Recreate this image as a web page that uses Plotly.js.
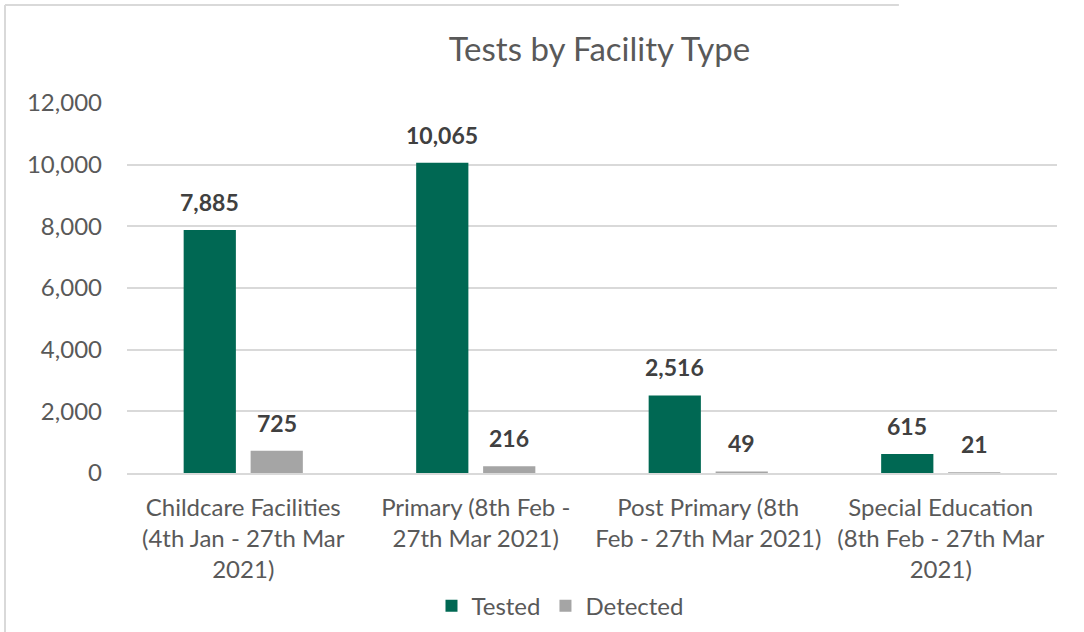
<!DOCTYPE html>
<html>
<head>
<meta charset="utf-8">
<script src="https://cdn.plot.ly/plotly-3.0.1.min.js"></script>
<style>html,body{margin:0;padding:0;background:#fff;}#chart{width:1084px;height:632px;}</style>
</head>
<body>
<div id="chart"></div>
<script>
const categories = [
  "Childcare Facilities<br>(4th Jan - 27th Mar<br>2021)",
  "Primary (8th Feb -<br>27th Mar 2021)",
  "Post Primary (8th<br>Feb - 27th Mar 2021)",
  "Special Education<br>(8th Feb - 27th Mar<br>2021)"
];
const tested = [7885, 10065, 2516, 615];
const detected = [725, 216, 49, 21];
const yTicks = [0, 2000, 4000, 6000, 8000, 10000, 12000];
const yTickLabels = ["0", "2,000", "4,000", "6,000", "8,000", "10,000", "12,000"];

const fmt = v => v.toLocaleString("en-US");
const FONT = "Lato, 'Open Sans', sans-serif";

const traces = [
  {type: "bar", name: "Tested", x: categories, y: tested,
   marker: {color: "#006853"}, hoverinfo: "none"},
  {type: "bar", name: "Detected", x: categories, y: detected,
   marker: {color: "#A5A5A5"}, hoverinfo: "none"}
];

const labelFont = {family: FONT, size: 23, color: "#404040", weight: 700};
const annotations = [];
[[tested, -33.5], [detected, 33.5]].forEach(([vals, dx]) => {
  vals.forEach((v, i) => {
    annotations.push({x: categories[i], y: v, xref: "x", yref: "y", text: "<b>" + fmt(v) + "</b>",
      showarrow: false, xanchor: "center", yanchor: "bottom", xshift: dx, yshift: 12, font: labelFont});
  });
});

const layout = {
  width: 1084, height: 632,
  margin: {l: 127, r: 27, t: 103, b: 159},
  paper_bgcolor: "#fff", plot_bgcolor: "#fff",
  font: {family: FONT, color: "#595959", size: 23},
  title: {text: "Tests by Facility Type", x: 0.553, xanchor: "center", y: 0.922, yanchor: "middle",
          font: {family: FONT, size: 33, color: "#595959"}},
  barmode: "group", bargap: 0.424, bargroupgap: 0.22,
  xaxis: {tickfont: {family: FONT, size: 24, color: "#595959"}, showline: true, linecolor: "#D9D9D9", linewidth: 2,
          ticks: "", showgrid: false, automargin: false, ticklabelstandoff: 12},
  yaxis: {range: [0, 12000], tickvals: yTicks, ticktext: yTickLabels,
          tickfont: {family: FONT, size: 24, color: "#595959"},
          showgrid: true, gridcolor: "#D9D9D9", gridwidth: 2, zeroline: false, showline: false,
          ticks: "", automargin: false, ticklabelstandoff: 24},
  showlegend: true,
  legend: {orientation: "h", xref: "container", yref: "container", x: 0.5166, xanchor: "center",
           y: 0.041, yanchor: "middle",
           font: {family: FONT, size: 24, color: "#595959"}, itemwidth: 30, tracegroupgap: 0},
  annotations: annotations,
  shapes: [
    {type: "line", xref: "paper", yref: "paper", x0: -0.1312, x1: -0.1312, y0: 1.265, y1: -0.45,
     line: {color: "#D9D9D9", width: 2}},
    {type: "line", xref: "paper", yref: "paper", x0: -0.1312, x1: 0.83, y0: 1.265, y1: 1.265,
     line: {color: "#D9D9D9", width: 2}}
  ]
};

Plotly.newPlot("chart", traces, layout, {displayModeBar: false, staticPlot: true});
</script>
</body>
</html>
